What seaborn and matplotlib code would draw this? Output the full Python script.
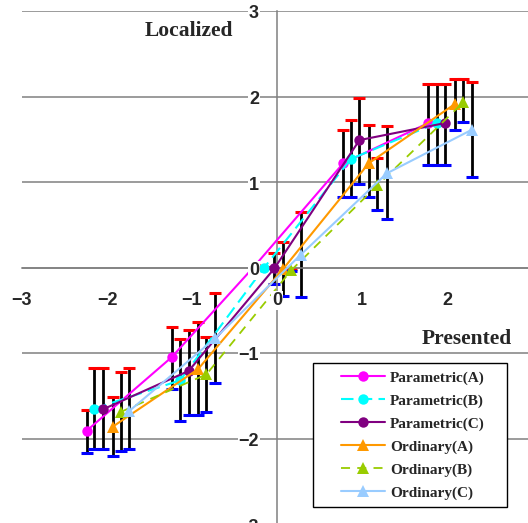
import matplotlib
matplotlib.use("Agg")
import matplotlib.pyplot as plt
import seaborn as sns
import numpy as np
from matplotlib.legend_handler import HandlerLine2D
from matplotlib.lines import Line2D

sns.set_style("white")
plt.rcParams['font.family'] = ['Liberation Sans', 'DejaVu Sans']

# ---------------- data ----------------
series_names = ["Parametric(A)", "Parametric(B)", "Parametric(C)",
                "Ordinary(A)", "Ordinary(B)", "Ordinary(C)"]

pa_x = [-2.24, -1.24, -0.27, 0.78, 1.78]
pa_y = [-1.91, -1.05, 0.01, 1.22, 1.69]
pa_hi = [-1.67, -0.70, 0.03, 1.61, 2.15]
pa_lo = [-2.17, -1.42, -0.01, 0.82, 1.20]

pb_x = [-2.15, -1.14, -0.15, 0.87, 1.88]
pb_y = [-1.65, -1.32, 0.00, 1.27, 1.69]
pb_hi = [-1.17, -0.84, 0.01, 1.72, 2.15]
pb_lo = [-2.12, -1.79, -0.01, 0.83, 1.20]

pc_x = [-2.05, -1.04, -0.03, 0.97, 1.98]
pc_y = [-1.66, -1.21, -0.01, 1.49, 1.69]
pc_hi = [-1.17, -0.73, 0.17, 1.98, 2.15]
pc_lo = [-2.12, -1.72, -0.19, 0.98, 1.20]

oa_x = [-1.93, -0.93, 0.07, 1.08, 2.09]
oa_y = [-1.86, -1.19, -0.02, 1.22, 1.91]
oa_hi = [-1.51, -0.64, 0.30, 1.67, 2.20]
oa_lo = [-2.20, -1.72, -0.33, 0.83, 1.61]

ob_x = [-1.84, -0.83, 0.17, 1.18, 2.19]
ob_y = [-1.69, -1.25, -0.03, 0.96, 1.93]
ob_hi = [-1.22, -0.81, -0.02, 1.28, 2.20]
ob_lo = [-2.15, -1.69, -0.04, 0.67, 1.70]

oc_x = [-1.74, -0.73, 0.28, 1.29, 2.29]
oc_y = [-1.68, -0.83, 0.15, 1.10, 1.61]
oc_hi = [-1.17, -0.30, 0.65, 1.65, 2.17]
oc_lo = [-2.12, -1.35, -0.35, 0.57, 1.06]

x_ticks = [-3, -2, -1, 0, 1, 2]
y_ticks = [3, 2, 1, 0, -1, -2, -3]

# ---------------- styles ----------------
colors = ["#FF00FF", "#00FFFF", "#800080", "#FF9900", "#99CC00", "#99CCFF"]
markers = ["o", "o", "o", "^", "^", "^"]
msizes = [7.5, 7.5, 7.5, 9, 9, 9]
lstyles = ["-", (0, (6, 3)), "-", "-", (0, (5, 4)), "-"]
lwidths = [1.5, 1.5, 1.5, 1.5, 1.3, 1.5]

xs = [pa_x, pb_x, pc_x, oa_x, ob_x, oc_x]
ys = [pa_y, pb_y, pc_y, oa_y, ob_y, oc_y]
his = [pa_hi, pb_hi, pc_hi, oa_hi, ob_hi, oc_hi]
los = [pa_lo, pb_lo, pc_lo, oa_lo, ob_lo, oc_lo]

W, H = 528, 523
fig = plt.figure(figsize=(W / 100, H / 100), dpi=100)
ax = fig.add_axes([22 / W, -1 / H, (W - 22) / W, 513 / H])
ax.set_xlim(-3, -3 + (W - 22) / 85.0)
ax.set_ylim(-3, 3)

gray = "#808080"
# error bars
for x, hi, lo in zip(xs, his, los):
    ax.vlines(x, lo, hi, colors="black", lw=2.0, zorder=2)
    ax.plot(x, hi, ls="none", marker="_", ms=9, mew=2.2, color="#FF0000", zorder=2.1)
    ax.plot(x, lo, ls="none", marker="_", ms=9, mew=2.2, color="#0000FF", zorder=2.1)

# series
for name, x, y, c, m, ms, ls, lw in zip(series_names, xs, ys, colors, markers, msizes, lstyles, lwidths):
    sns.lineplot(x=x, y=y, ax=ax, sort=False, estimator=None, color=c, marker=m,
                 markersize=ms, markeredgecolor=c, markeredgewidth=0, linestyle=ls,
                 lw=lw, label=name, zorder=3)

# axes styling
for s in ["top", "right"]:
    ax.spines[s].set_visible(False)
ax.spines["left"].set_position(("data", 0))
ax.spines["bottom"].set_position(("data", 0))
for s in ["left", "bottom"]:
    ax.spines[s].set_color(gray)
    ax.spines[s].set_linewidth(1.1)
ax.set_xticks(x_ticks)
ax.set_yticks(y_ticks)
ax.tick_params(axis="x", direction="in", length=5, width=1.1, color=gray, labelbottom=False)
ax.tick_params(axis="y", direction="in", length=4.5, width=1.1, color=gray, labelleft=False)
ax.grid(axis="y", color=gray, lw=1.1)
ax.grid(axis="x", visible=False)
ax.set_xlabel("")
ax.set_ylabel("")

tick_font = dict(family=["Liberation Sans", "DejaVu Sans"], weight="bold", size=13)
box = dict(facecolor="white", edgecolor="none", pad=0.5)
for v in y_ticks:
    ax.annotate(str(v).replace("-", "\u2212"), xy=(0, v), xytext=(-18, -3),
                textcoords="offset pixels", ha="right", va="center", bbox=box,
                zorder=10, annotation_clip=False, **tick_font)
for v in x_ticks:
    ax.annotate(str(v).replace("-", "\u2212"), xy=(v, 0), xytext=(0, -33),
                textcoords="offset pixels", ha="center", va="center", bbox=box,
                zorder=10, annotation_clip=False, **tick_font)

serif = ["Liberation Serif", "DejaVu Serif"]
fig.text(188.5 / W, 1 - 31.5 / H, "Localized", ha="center", va="center",
         family=serif, weight="bold", size=15.5)
fig.text(466.7 / W, 1 - 339.5 / H, "Presented", ha="center", va="center",
         family=serif, weight="bold", size=15.5)

# legend
handles, labels = ax.get_legend_handles_labels()
leg = fig.legend(handles, labels, loc="upper left",
                 bbox_to_anchor=(313 / W, 1 - 505 / H, 194 / W, 142 / H),
                 mode="expand", borderaxespad=0, borderpad=0.5,
                 handlelength=4.2, handletextpad=0.33, labelspacing=0.6,
                 frameon=True, fancybox=False, framealpha=1, edgecolor="black",
                 prop=dict(family=serif, weight="bold", size=11),
                 handler_map={Line2D: HandlerLine2D(numpoints=1, xpad=1.31)})
leg.get_frame().set_linewidth(1.0)
if ax.get_legend() is not None:
    ax.get_legend().remove()

fig.savefig("out.png", dpi=100, facecolor="white")
